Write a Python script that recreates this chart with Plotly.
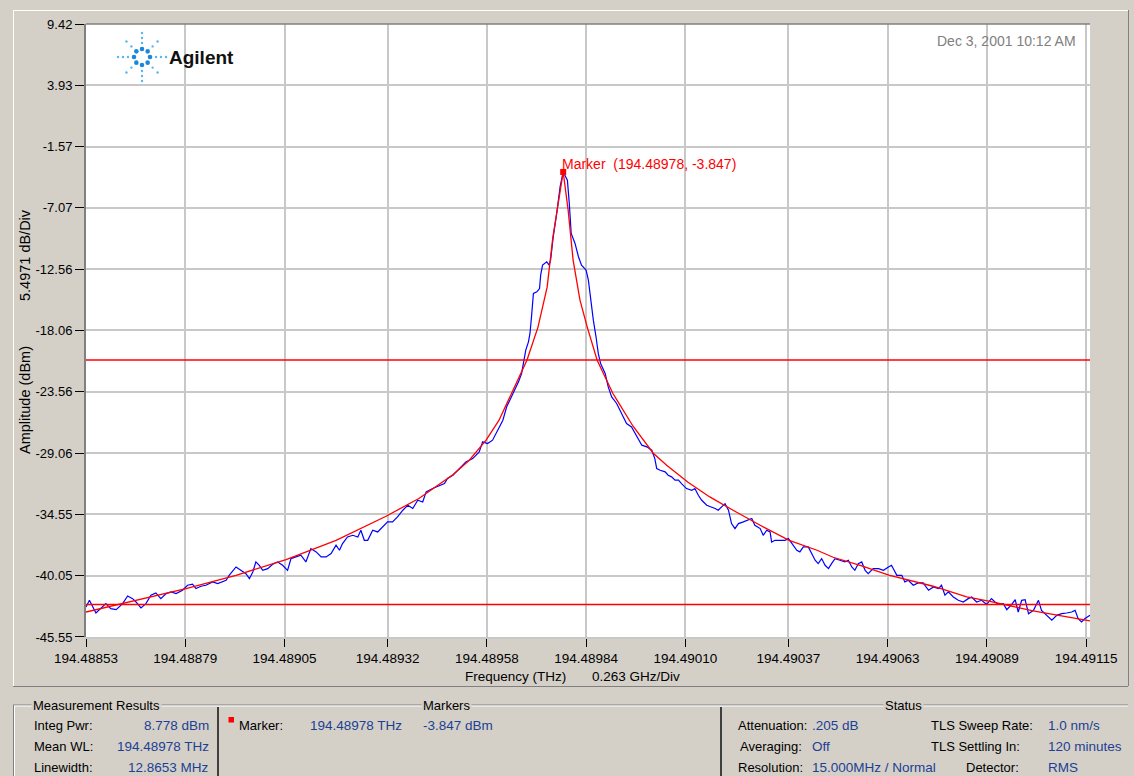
import math
import plotly.graph_objects as go

# ---------------- data ----------------
F0_THZ = 194.48853  # sweep start frequency (THz)

x_tick_labels = ["194.48853", "194.48879", "194.48905", "194.48932", "194.48958", "194.48984",
                 "194.49010", "194.49037", "194.49063", "194.49089", "194.49115"]
y_tick_labels = ["9.42", "3.93", "-1.57", "-7.07", "-12.56", "-18.06", "-23.56",
                 "-29.06", "-34.55", "-40.05", "-45.55"]

# measured trace: offset from start (MHz) and amplitude (dBm)
meas_offset_mhz = [
    0, 9, 26, 52, 65, 79, 96, 109, 122, 131,
    144, 157, 170, 183, 196, 210, 223, 236, 253, 266,
    279, 288, 301, 314, 332, 345, 367, 375, 393, 406,
    419, 428, 437, 445, 454, 463, 476, 489, 502, 515,
    528, 537, 550, 563, 576, 589, 603, 616, 629, 642,
    655, 664, 672, 685, 699, 712, 720, 729, 738, 751,
    764, 777, 790, 803, 816, 830, 843, 856, 869, 882,
    891, 908, 926, 939, 947, 961, 974, 982, 995, 1013,
    1030, 1039, 1052, 1065, 1078, 1092,
    1102, 1115, 1124, 1133, 1141, 1148, 1152, 1159, 1163, 1167,
    1172, 1181, 1188, 1191, 1196, 1207, 1213, 1217, 1224, 1233,
    1242, 1250, 1255, 1261, 1266, 1271, 1281, 1290, 1298, 1310,
    1316, 1322, 1329, 1336, 1342, 1348, 1360, 1368, 1377, 1390,
    1403, 1416, 1429, 1443,
    1447, 1456, 1469, 1482, 1490, 1495, 1504, 1517, 1525, 1534,
    1543, 1552, 1560, 1573, 1587, 1595, 1604, 1613, 1626, 1639,
    1648, 1656, 1665, 1674, 1683, 1691, 1700, 1709, 1722, 1735,
    1744, 1752, 1766, 1774, 1783, 1792, 1796, 1805, 1818, 1831,
    1840, 1849, 1862, 1870, 1879, 1892, 1901, 1910, 1918, 1927,
    1936, 1945, 1953, 1962, 1975, 1988, 1997, 2006, 2014, 2023,
    2032, 2041, 2049, 2062, 2076, 2089, 2102, 2110, 2124, 2137,
    2145, 2154, 2167, 2180, 2193, 2207, 2220, 2233, 2241, 2250,
    2259, 2272, 2285, 2298, 2311, 2320, 2333, 2346, 2359, 2372,
    2381, 2390, 2403, 2412, 2425, 2434, 2442, 2451, 2460, 2469,
    2482, 2495, 2503, 2517, 2530, 2543, 2556, 2569, 2582, 2591,
    2599, 2608, 2617, 2626, 2630,
]
meas_dbm = [
    -42.86, -42.26, -43.40, -42.56, -43.01, -43.10, -42.56, -41.87, -42.11, -42.41,
    -42.95, -42.56, -41.81, -41.60, -42.11, -41.66, -41.51, -41.66, -41.36, -40.91,
    -40.82, -41.21, -41.00, -40.91, -40.62, -40.76, -40.47, -40.02, -39.27, -39.57,
    -39.87, -40.32, -39.72, -38.82, -39.12, -39.57, -39.42, -39.03, -38.82, -39.12,
    -39.57, -38.52, -38.37, -38.22, -38.82, -37.62, -37.92, -38.37, -38.37, -38.07,
    -37.32, -37.77, -37.17, -36.58, -36.43, -36.58, -35.98, -36.88, -36.88, -35.98,
    -36.13, -35.68, -35.23, -35.23, -34.78, -34.18, -33.74, -34.03, -33.29, -33.44,
    -32.54, -32.24, -31.94, -31.79, -31.34, -31.04, -30.60, -30.30, -29.85, -29.55,
    -28.95, -28.05, -28.20, -27.90, -27.00, -26.11,
    -24.91, -24.02, -23.42, -22.67, -21.92, -20.72, -19.83, -19.08, -18.33, -16.84,
    -14.74, -14.60, -14.30, -13.10, -12.20, -11.90, -12.20, -11.75, -9.66, -7.57,
    -5.17, -3.85, -4.13, -4.58, -6.67, -9.36, -10.26, -11.45, -12.20, -12.65,
    -13.55, -15.34, -17.14, -18.63, -20.13, -21.02, -21.92, -23.12, -24.02, -24.61,
    -25.51, -26.41, -26.71, -27.60,
    -27.75, -28.35, -28.50, -28.80, -29.55, -30.45, -30.60, -30.74, -31.04, -31.19,
    -31.49, -31.49, -31.79, -32.24, -32.39, -32.24, -32.84, -33.29, -33.74, -33.89,
    -34.03, -34.18, -33.89, -33.59, -34.18, -35.38, -35.83, -35.38, -35.23, -35.08,
    -34.93, -35.53, -35.83, -36.43, -35.98, -36.13, -37.03, -36.88, -36.88, -36.88,
    -36.73, -37.17, -37.77, -37.92, -37.47, -37.47, -38.07, -38.67, -38.97, -38.52,
    -39.12, -39.42, -38.97, -38.52, -38.67, -38.82, -38.67, -39.27, -39.57, -38.97,
    -38.82, -39.57, -39.87, -39.42, -39.42, -39.57, -39.27, -39.12, -40.02, -40.02,
    -40.61, -40.46, -40.91, -40.70, -40.70, -41.36, -41.06, -41.21, -40.91, -41.81,
    -41.51, -41.96, -42.26, -42.41, -42.11, -41.96, -42.41, -42.26, -42.62, -42.11,
    -42.41, -42.62, -42.56, -43.10, -42.62, -42.20, -43.31, -42.26, -42.20, -43.46,
    -43.16, -42.26, -43.16, -43.61, -44.05, -43.61, -43.46, -43.40, -43.31, -43.16,
    -43.90, -44.20, -43.90, -43.70, -43.61,
]

# Lorentzian fit curve
fit_offset_mhz = [0, 131, 262, 393, 524, 655, 786, 872, 917, 961,
                  1004, 1048, 1082, 1119, 1155, 1184, 1208, 1223, 1242, 1250,
                  1263, 1276, 1294, 1313, 1339, 1380, 1391, 1433, 1486, 1521,
                  1577, 1634, 1695, 1766, 1842, 1915, 1957, 2028, 2103, 2177,
                  2219, 2307, 2368, 2439, 2481, 2570, 2630]
fit_dbm = [-43.31, -42.26, -41.21, -40.02, -38.61, -36.88, -34.72, -33.13, -32.09, -31.00,
           -29.70, -27.90, -26.11, -23.42, -20.73, -17.76, -14.18, -9.69, -5.74, -3.85,
           -7.27, -11.75, -15.34, -17.76, -20.73, -23.69, -24.31, -26.65, -29.07, -30.15,
           -31.67, -32.99, -34.18, -35.53, -36.88, -37.77, -38.40, -39.12, -40.01, -40.62,
           -41.00, -41.96, -42.35, -42.90, -43.20, -43.75, -44.10]

threshold_dbm = [-20.72, -42.64]
marker_thz = [194.48978]
marker_dbm = [-3.847]

meas_labels = ["Integ Pwr:", "Mean WL:", "Linewidth:"]
meas_values = ["8.778 dBm", "194.48978 THz", "12.8653 MHz"]
marker_row = ["Marker:", "194.48978 THz", "-3.847 dBm"]
status_labels_a = ["Attenuation:", "Averaging:", "Resolution:"]
status_values_a = [".205 dB", "Off", "15.000MHz / Normal"]
status_labels_b = ["TLS Sweep Rate:", "TLS Settling In:", "Detector:"]
status_values_b = ["1.0 nm/s", "120 minutes", "RMS"]

# ---------------- layout helpers ----------------
W, H = 1134, 776
ML, MR, MT, MB = 86, 44, 24, 139
PW, PH = W - ML - MR, H - MT - MB


def px(x):
    return (x - ML) / PW


def py(y):
    return (H - MB - y) / PH


BG = "#d4d0c8"
FONT = "Liberation Sans, Arial, sans-serif"
VAL = "#1c3f94"

fig = go.Figure()

fig.add_trace(go.Scatter(
    x=[F0_THZ + o * 1e-6 for o in meas_offset_mhz], y=meas_dbm,
    mode="lines", line=dict(color="#0000ff", width=1.2), hoverinfo="skip"))
fig.add_trace(go.Scatter(
    x=[F0_THZ + o * 1e-6 for o in fit_offset_mhz], y=fit_dbm,
    mode="lines", line=dict(color="#ff0000", width=1.3), hoverinfo="skip"))
fig.add_trace(go.Scatter(
    x=marker_thz, y=marker_dbm, mode="markers",
    marker=dict(symbol="square", size=6, color="#ff0000"), hoverinfo="skip"))

for lvl in threshold_dbm:
    fig.add_shape(type="line", xref="paper", x0=0, x1=1, yref="y", y0=lvl, y1=lvl,
                  line=dict(color="#ff0000", width=1.5))

# plot top border
fig.add_shape(type="line", xref="paper", yref="paper", x0=0, x1=1, y0=1, y1=1,
              line=dict(color="#808080", width=1.5))

# marker label
fig.add_annotation(x=marker_thz[0], y=marker_dbm[0], xref="x", yref="y",
                   text="Marker\u00a0 (%.5f, %.3f)" % (marker_thz[0], marker_dbm[0]),
                   showarrow=False, xanchor="left", yanchor="bottom", xshift=-3, yshift=-2,
                   font=dict(family=FONT, size=14, color="#ff0000"))


def text(xp, yp, s, size=13, color="black", xanchor="left", **kw):
    fig.add_annotation(x=px(xp), y=py(yp), xref="paper", yref="paper", text=s,
                       showarrow=False, xanchor=xanchor, yanchor="middle",
                       font=dict(family=FONT, size=size, color=color), **kw)


def hline(x0, x1, y, color, width=1):
    fig.add_shape(type="line", xref="paper", yref="paper", x0=px(x0), x1=px(x1),
                  y0=py(y), y1=py(y), line=dict(color=color, width=width))


def vline(x, y0, y1, color, width=1):
    fig.add_shape(type="line", xref="paper", yref="paper", x0=px(x), x1=px(x),
                  y0=py(y0), y1=py(y1), line=dict(color=color, width=width))


# outer chart panel (raised)
hline(13, 1128, 10.5, "#ffffff")
vline(13.5, 10, 686, "#ffffff")
hline(13, 1128, 686.5, "#808080")
vline(1128.5, 10, 686, "#808080")

# axis titles
text(25, 255, "5.4971 dB/Div", size=14.5, xanchor="center", textangle=-90)
text(25, 400, "Amplitude (dBm)", size=14.5, xanchor="center", textangle=-90)
text(515, 676, "Frequency (THz)", size=13.5, xanchor="center")
text(590, 676, "0.263 GHz/Div", size=13.5)

# date stamp
text(1078, 41, "Dec 3, 2001 10:12 AM", size=14, color="#808080", xanchor="right")

# Agilent logo
cx, cy = 142, 57
for k in range(8):
    ang = k * math.pi / 4
    radii = [8, 14, 19, 24] if k % 2 == 0 else [8, 15, 22]
    for i, r in enumerate(radii):
        x = cx + r * math.cos(ang)
        y = cy - r * math.sin(ang)
        s = 2.3 if i == 0 else 1.2
        col = "#1a86dc" if i == 0 else "#55b6f2"
        fig.add_shape(type="circle", xref="paper", yref="paper",
                      x0=px(x - s), x1=px(x + s), y0=py(y + s), y1=py(y - s),
                      fillcolor=col, line=dict(width=0))
text(167, 57, "<b>Agilent</b>", size=19, color="#111111")

# bottom group frame
hline(13, 1128, 705, "#808080")
hline(14, 1128, 706, "#ffffff")
vline(13.5, 705, 776, "#808080")
vline(14.5, 706, 776, "#ffffff")
vline(218, 707, 776, "#404040", 2)
vline(721, 707, 776, "#404040", 2)
text(31, 705, "Measurement Results", size=13, bgcolor=BG)
text(421, 705, "Markers", size=13, bgcolor=BG)
text(883, 705, "Status", size=13, bgcolor=BG)

rows = [725, 746, 767]
for i, yy in enumerate(rows):
    text(32, yy, meas_labels[i])
    text(211, yy, meas_values[i], size=13.5, color=VAL, xanchor="right")
    text(736 + (2 if i == 1 else 0), yy, status_labels_a[i])
    text(810, yy, status_values_a[i], size=13.5, color=VAL)
    text(929 if i < 2 else 964, yy, status_labels_b[i])
    text(1046, yy, status_values_b[i], size=13.5, color=VAL)

fig.add_shape(type="rect", xref="paper", yref="paper", x0=px(228.5), x1=px(234),
              y0=py(722.5), y1=py(717), fillcolor="#ff0000", line=dict(width=0))
text(237, 725, marker_row[0])
text(308, 725, marker_row[1], size=13.5, color=VAL)
text(421, 725, marker_row[2], size=13.5, color=VAL)

fig.update_layout(
    width=W, height=H,
    margin=dict(l=ML, r=MR, t=MT, b=MB, autoexpand=False),
    paper_bgcolor=BG, plot_bgcolor="#ffffff",
    showlegend=False,
    font=dict(family=FONT, color="black"),
    xaxis=dict(range=[F0_THZ, F0_THZ + 0.00263],
               tickvals=[float(t) for t in x_tick_labels], ticktext=x_tick_labels,
               ticks="outside", ticklen=8, tickwidth=1, tickcolor="#000000",
               showgrid=True, gridcolor="#c8c8c8", gridwidth=1.5,
               showline=True, linecolor="#c8c8c8", linewidth=1.5,
               zeroline=False, tickfont=dict(family=FONT, size=13.5, color="black"),
               fixedrange=True),
    yaxis=dict(range=[-45.5510, 9.42],
               tickvals=[float(t) for t in y_tick_labels], ticktext=y_tick_labels,
               ticks="outside", ticklen=9, tickwidth=1, tickcolor="#000000",
               showgrid=True, gridcolor="#c8c8c8", gridwidth=1.5,
               showline=True, linecolor="#808080", linewidth=2,
               zeroline=False, tickfont=dict(family=FONT, size=13, color="black"),
               fixedrange=True),
)

fig.write_html("out.html", config={"displayModeBar": False},
               post_script="document.body.style.margin='0';document.body.style.background='%s';" % BG)
